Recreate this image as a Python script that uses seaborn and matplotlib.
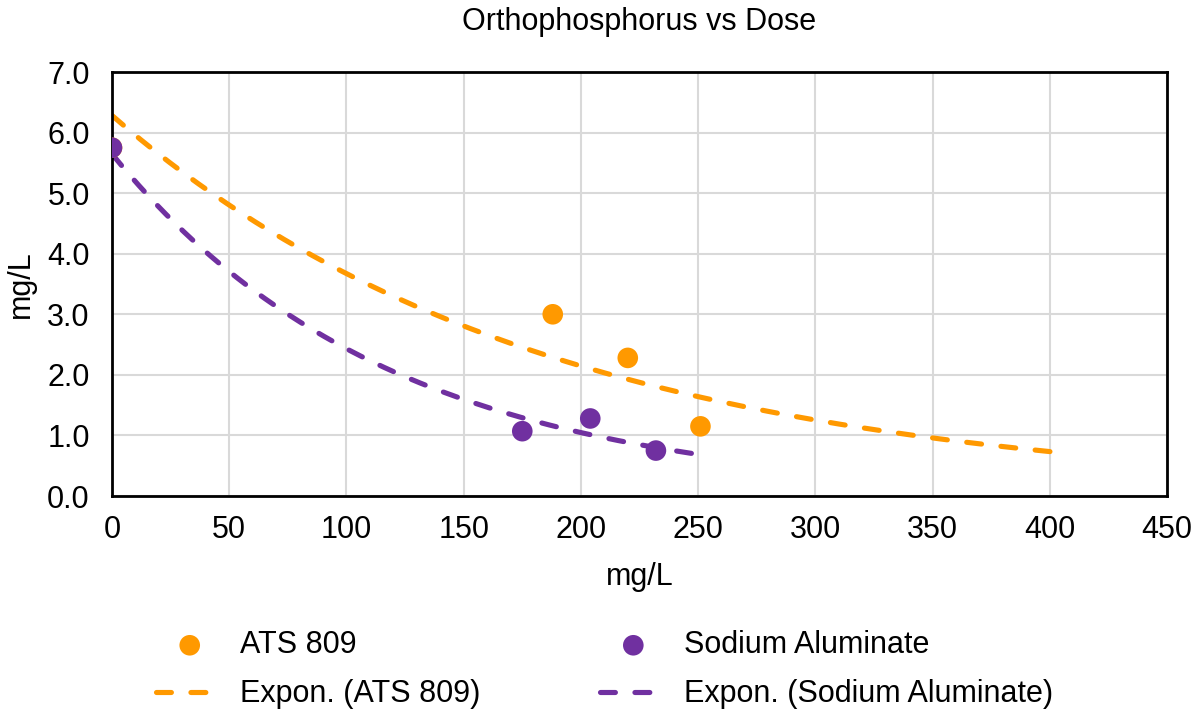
import numpy as np
import pandas as pd
import seaborn as sns
import matplotlib.pyplot as plt

sns.set_theme(style="white")
plt.rcParams['font.family'] = ['Liberation Sans', 'DejaVu Sans']
plt.rcParams['text.color'] = 'black'
plt.rcParams['axes.labelcolor'] = 'black'

# dose (mg/L) and orthophosphorus (mg/L)
ats_dose = [0, 188, 220, 251]
ats_op = [5.75, 3.0, 2.28, 1.15]
sa_dose = [0, 175, 204, 232]
sa_op = [5.75, 1.07, 1.28, 0.75]

# how far the excel trend lines run
ats_trend_end = 406
sa_trend_end = 254

orange = "#FF9900"
purple = "#7030A0"


def expon_fit(x, y, x_end):
    # same as excel's exponential trendline: ln(y) = ln(a) + b*x
    b, ln_a = np.polyfit(x, np.log(y), 1)
    xs = np.linspace(0, x_end, 200)
    return pd.DataFrame({"x": xs, "y": np.exp(ln_a) * np.exp(b * xs)})


ats_fit = expon_fit(ats_dose, ats_op, ats_trend_end)
sa_fit = expon_fit(sa_dose, sa_op, sa_trend_end)

fig = plt.figure(figsize=(11.97, 7.11), dpi=100)
ax = fig.add_axes([112 / 1197, 1 - 496 / 711, (1167 - 112) / 1197, (496 - 72) / 711])

sns.lineplot(data=ats_fit, x="x", y="y", ax=ax, color=orange, lw=3.7,
             dashes=False, label="Expon. (ATS 809)")
sns.lineplot(data=sa_fit, x="x", y="y", ax=ax, color=purple, lw=3.7,
             dashes=False, label="Expon. (Sodium Aluminate)")
for ln in ax.get_lines():
    ln.set_dashes((2.9, 3.8))
    ln.set_dash_capstyle("round")

sns.scatterplot(x=ats_dose, y=ats_op, ax=ax, color=orange, s=220,
                edgecolor="none", label="ATS 809", zorder=3)
sns.scatterplot(x=sa_dose, y=sa_op, ax=ax, color=purple, s=220,
                edgecolor="none", label="Sodium Aluminate", zorder=4)

ax.set_xlim(0, 450)
ax.set_ylim(0, 7)
ax.set_xticks(np.arange(0, 451, 50))
ax.set_yticks(np.arange(0, 7.1, 1))
ax.set_yticklabels([f"{v:.1f}" for v in np.arange(0, 7.1, 1)])
ax.grid(True, color="#d9d9d9", lw=1.5)
ax.set_axisbelow(True)
for sp in ax.spines.values():
    sp.set_color("black")
    sp.set_linewidth(2)
ax.tick_params(axis="both", labelsize=22, length=0, colors="black")
ax.tick_params(axis="x", pad=14)
ax.tick_params(axis="y", pad=16)

ax.set_xlabel("mg/L", fontsize=22, labelpad=12)
ax.set_ylabel("mg/L", fontsize=22, labelpad=8)
ax.set_title("Orthophosphorus vs Dose", fontsize=22, pad=30)

handles, labels = ax.get_legend_handles_labels()
ax.get_legend().remove()
order = ["ATS 809", "Expon. (ATS 809)", "Sodium Aluminate", "Expon. (Sodium Aluminate)"]
h = [handles[labels.index(l)] for l in order]
fig.legend(h, order, loc="center", bbox_to_anchor=(0.505, 0.058), ncol=2,
           frameon=False, fontsize=22, columnspacing=3.9, handlelength=2.2,
           handletextpad=0.55, labelspacing=0.62, markerscale=1.0)

fig.savefig("out.png", dpi=100)
